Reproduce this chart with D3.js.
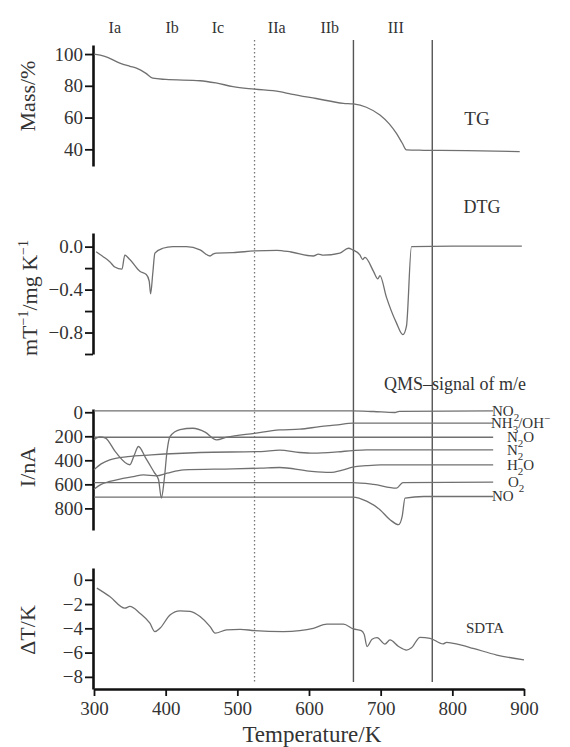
<!DOCTYPE html>
<html lang="en">
<head>
    <meta charset="UTF-8">
    <title>TG / DTG / QMS / SDTA</title>
    <script src="https://d3js.org/d3.v7.min.js"></script>
    <style>
        body {
            margin: 0;
            background-color: white;
        }
        svg text {
            font-family: "Liberation Serif", "DejaVu Serif", serif;
            fill: #333;
        }
    </style>
</head>
<body>
    <svg id="chart" width="570" height="747"></svg>

    <script>
        // Region labels and their temperatures (K)
        const regionLabels = ["Ia", "Ib", "Ic", "IIa", "IIb", "III"];
        const regionTemps = [329, 409, 473, 555, 629, 721];
        const dottedBoundary = 524;
        const solidBoundaries = [662, 772];

        // TG, mass %
        const tgData = [
            [300, 100], [315, 98.6], [336, 94.3], [350, 92.3], [360, 91], [372, 88], [382, 84.8],
            [400, 84], [448, 83.2], [470, 81.8], [494, 79.5], [524, 77.9], [559, 76.3], [575, 74.8],
            [610, 72], [648, 69], [662, 68.6], [680, 66.5], [699, 61.6], [712, 56], [722, 50],
            [730, 44], [736, 39.6], [760, 39.4], [820, 39.2], [894, 38.6]
        ];

        // DTG, mT^-1 / mg K^-1
        const dtgData = [
            [303, -0.047], [312, -0.09], [322, -0.14], [329, -0.19], [339, -0.21], [343, -0.08],
            [350, -0.12], [364, -0.23], [373, -0.26], [377, -0.32], [379, -0.44], [382, -0.25],
            [385, -0.06], [396, -0.015], [410, 0], [429, 0], [448, -0.03], [462, -0.087],
            [466, -0.07], [471, -0.06], [494, -0.056], [524, -0.04], [555, -0.034], [575, -0.05],
            [606, -0.087], [613, -0.07], [620, -0.08], [643, -0.06], [655, -0.015], [661, -0.03],
            [671, -0.077], [675, -0.12], [678, -0.10], [690, -0.23], [696, -0.30], [699, -0.27],
            [708, -0.47], [722, -0.71], [731, -0.82], [736, -0.74], [743, 0], [800, 0.005], [897, 0.005]
        ];

        // QMS signals, nA (axis grows downward)
        const qmsNames = ["NO2", "NH3/OH", "N2O", "N2", "H2O", "O2", "NO"];
        const qmsNO2 = [[300, -12], [660, -12], [690, -6], [720, 2], [726, -8], [857, -12]];
        const qmsNH3 = [
            [300, 230], [308, 205], [316, 215], [330, 330], [350, 437], [356, 360], [362, 285],
            [372, 380], [384, 500], [390, 560], [394, 714], [398, 560], [402, 320], [406, 203],
            [420, 145], [438, 133], [455, 165], [471, 230], [485, 208], [524, 175], [559, 147],
            [587, 141], [615, 120], [640, 105], [661, 91], [857, 91]
        ];
        const qmsN2O = [[300, 208], [857, 208]];
        const qmsN2 = [
            [300, 479], [310, 430], [322, 396], [347, 369], [380, 355], [448, 335], [533, 327],
            [559, 315], [587, 335], [606, 341], [640, 330], [661, 319], [680, 313], [857, 313]
        ];
        const qmsH2O = [
            [300, 640], [310, 600], [322, 576], [355, 535], [369, 521], [387, 529], [402, 507],
            [425, 479], [494, 471], [533, 465], [559, 460], [600, 490], [629, 501], [648, 479],
            [661, 457], [680, 445], [700, 438], [857, 438]
        ];
        const qmsO2 = [[300, 585], [661, 585], [690, 600], [722, 631], [731, 585], [857, 582]];
        const qmsNO = [
            [300, 706], [661, 706], [681, 742], [699, 811], [713, 894], [725, 936], [730, 867],
            [734, 714], [760, 701], [857, 701]
        ];
        const qmsSeries = [qmsNO2, qmsNH3, qmsN2O, qmsN2, qmsH2O, qmsO2, qmsNO];

        // SDTA, delta T in K
        const sdtaData = [
            [304, -0.69], [322, -1.38], [343, -2.34], [350, -2.2], [364, -2.75], [378, -3.58],
            [385, -4.27], [392, -4.0], [406, -2.9], [420, -2.56], [434, -2.6], [448, -3.03],
            [462, -3.86], [469, -4.4], [485, -4.13], [504, -4.08], [524, -4.19], [564, -4.27],
            [587, -4.19], [606, -4.0], [625, -3.66], [648, -3.66], [662, -4.05], [673, -4.19],
            [677, -4.5], [681, -5.5], [688, -4.9], [695, -4.77], [706, -5.3], [713, -4.96],
            [725, -5.5], [736, -5.79], [743, -5.6], [755, -4.74], [769, -4.82], [787, -5.29],
            [792, -5.15], [810, -5.35], [829, -5.65], [862, -6.2], [900, -6.6]
        ];

        // Tick values
        const xTicks = [300, 400, 500, 600, 700, 800, 900];
        const tgTicks = [40, 60, 80, 100];
        const dtgTicks = [0, -0.2, -0.4, -0.6, -0.8, -1.0];
        const dtgLabelled = [0, -0.4, -0.8];
        const qmsTicks = [0, 200, 400, 600, 800];
        const sdtaTicks = [0, -2, -4, -6, -8];

        const svg = d3.select("#chart");
        const curveColor = "#707070";
        const x = d3.scaleLinear().domain([300, 900]).range([94, 524]);

        const fmtMinus = d => (d < 0 ? "\u2212" : "") + Math.abs(d);

        // Panels: scales built from top/bottom pixel extents
        const panels = [
            { name: "tg", y: d3.scaleLinear().domain([29.5, 105.7]).range([166, 45]), ticks: tgTicks,
              fmt: d => d, title: "Mass/%", titleY: 96 },
            { name: "dtg", y: d3.scaleLinear().domain([-1.0, 0.127]).range([354, 233]), ticks: dtgTicks,
              fmt: d => dtgLabelled.some(v => Math.abs(v - d) < 1e-9) ? (d < 0 ? "\u2212" : "") + Math.abs(d).toFixed(1) : "",
              title: null, titleY: 298 },
            { name: "qms", y: d3.scaleLinear().domain([-27, 980]).range([409, 530]), ticks: qmsTicks,
              fmt: d => d, title: "I/nA", titleY: 467 },
            { name: "sdta", y: d3.scaleLinear().domain([-9, 0.97]).range([689, 568]), ticks: sdtaTicks,
              fmt: fmtMinus, title: "\u0394T/K", titleY: 630 }
        ];

        const line = yScale => d3.line()
            .x(d => x(d[0]))
            .y(d => yScale(d[1]))
            .curve(d3.curveMonotoneX);

        // Boundaries first so they sit behind curves
        svg.append("line")
            .attr("x1", x(dottedBoundary)).attr("x2", x(dottedBoundary))
            .attr("y1", 40).attr("y2", 682)
            .attr("stroke", "#777").attr("stroke-width", 1.3)
            .attr("stroke-dasharray", "1.5,2.5");
        solidBoundaries.forEach(t => {
            svg.append("line")
                .attr("x1", x(t)).attr("x2", x(t))
                .attr("y1", 40).attr("y2", 682)
                .attr("stroke", "#555").attr("stroke-width", 1.4);
        });

        // Region labels
        svg.selectAll(".region")
            .data(regionLabels)
            .join("text")
            .attr("x", (d, i) => x(regionTemps[i]))
            .attr("y", 33)
            .attr("text-anchor", "middle")
            .style("font-size", "16px")
            .text(d => d);

        // Y axes
        panels.forEach(p => {
            const g = svg.append("g")
                .attr("transform", "translate(93,0)")
                .call(d3.axisLeft(p.y).tickValues(p.ticks).tickSize(8).tickPadding(2)
                    .tickSizeOuter(0).tickFormat(p.fmt));
            g.select(".domain").attr("stroke", "#111").attr("stroke-width", 2.6);
            g.selectAll(".tick line").attr("stroke", "#111").attr("stroke-width", 1.8);
            g.selectAll(".tick text").style("font-size", "19px").attr("fill", "#333");
            if (p.title) {
                svg.append("text")
                    .attr("transform", `translate(35,${p.titleY}) rotate(-90)`)
                    .attr("text-anchor", "middle")
                    .style("font-size", "22px")
                    .text(p.title);
            }
        });

        // DTG axis title with superscripts
        const dtgTitle = svg.append("text")
            .attr("transform", "translate(37,298) rotate(-90)")
            .attr("text-anchor", "middle")
            .style("font-size", "22px");
        dtgTitle.append("tspan").text("mT");
        dtgTitle.append("tspan").attr("dy", -9).style("font-size", "14px").text("\u22121");
        dtgTitle.append("tspan").attr("dy", 9).text("/mg K");
        dtgTitle.append("tspan").attr("dy", -9).style("font-size", "14px").text("\u22121");

        // X axis (bottom of SDTA panel)
        const xg = svg.append("g")
            .attr("transform", "translate(0,689)")
            .call(d3.axisBottom(x).tickValues(xTicks).tickSize(7).tickPadding(6).tickSizeOuter(0));
        xg.select(".domain").attr("stroke", "#111").attr("stroke-width", 2.6);
        xg.selectAll(".tick line").attr("stroke", "#111").attr("stroke-width", 1.8);
        xg.selectAll(".tick text").style("font-size", "19px").attr("fill", "#333");
        svg.append("text")
            .attr("x", x(604)).attr("y", 742)
            .attr("text-anchor", "middle")
            .style("font-size", "23px")
            .text("Temperature/K");

        // Curves
        const [tgP, dtgP, qmsP, sdtaP] = panels;
        const drawCurve = (data, yScale) => svg.append("path")
            .datum(data)
            .attr("d", line(yScale))
            .attr("fill", "none")
            .attr("stroke", curveColor)
            .attr("stroke-width", 1.3);

        drawCurve(tgData, tgP.y);
        drawCurve(dtgData, dtgP.y);
        qmsSeries.forEach(s => drawCurve(s, qmsP.y));
        drawCurve(sdtaData, sdtaP.y);

        // Panel labels
        svg.append("text").attr("x", 477).attr("y", 125).attr("text-anchor", "middle")
            .style("font-size", "19px").text("TG");
        svg.append("text").attr("x", 482).attr("y", 213).attr("text-anchor", "middle")
            .style("font-size", "18px").text("DTG");
        svg.append("text").attr("x", 455).attr("y", 390).attr("text-anchor", "middle")
            .style("font-size", "18px").text("QMS\u2013signal of m/e");
        svg.append("text").attr("x", 485).attr("y", 633).attr("text-anchor", "middle")
            .style("font-size", "15px").text("SDTA");

        // QMS species labels with sub/superscripts
        const qmsLabelParts = [
            [["NO", 0], ["2", 1]],
            [["NH", 0], ["3", 1], ["/OH", 0], ["\u2212", -1]],
            [["N", 0], ["2", 1], ["O", 0]],
            [["N", 0], ["2", 1]],
            [["H", 0], ["2", 1], ["O", 0]],
            [["O", 0], ["2", 1]],
            [["NO", 0]]
        ];
        const qmsLabelX = [492, 491, 507, 507, 507, 508, 492];
        qmsLabelParts.forEach((parts, i) => {
            const last = qmsSeries[i][qmsSeries[i].length - 1][1];
            const t = svg.append("text")
                .attr("x", qmsLabelX[i])
                .attr("y", qmsP.y(last) + 5)
                .style("font-size", "15px");
            let shift = 0;
            parts.forEach(([s, k]) => {
                const target = k === 1 ? 5 : (k === -1 ? -6 : 0);
                t.append("tspan")
                    .attr("dy", target - shift)
                    .style("font-size", k === 0 ? "15px" : "11px")
                    .text(s);
                shift = target;
            });
        });
    </script>
</body>
</html>
